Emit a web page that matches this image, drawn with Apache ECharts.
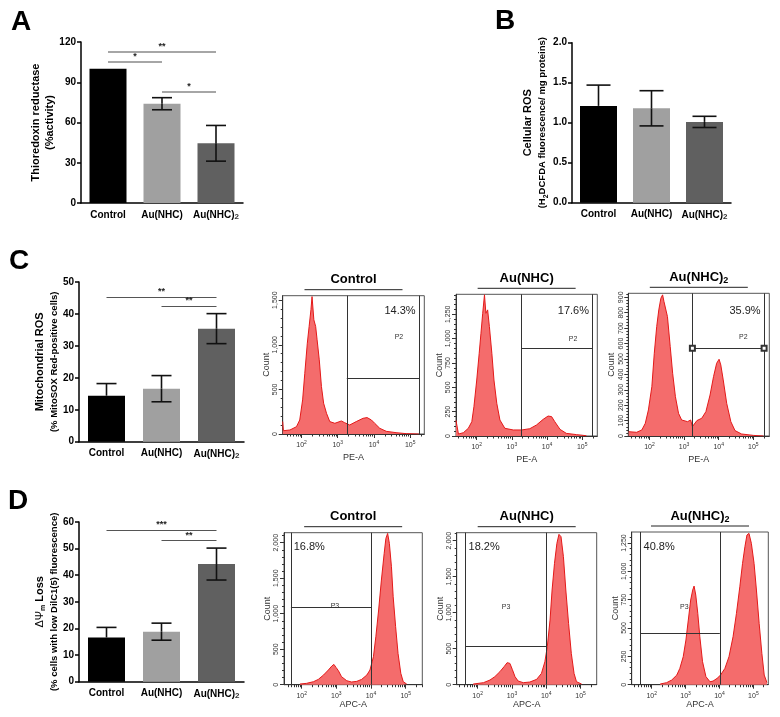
<!DOCTYPE html>
<html>
<head>
<meta charset="utf-8">
<script src="https://cdn.jsdelivr.net/npm/echarts@6/dist/echarts.min.js"></script>
<style>
  html, body { margin: 0; padding: 0; background: #fff; }
  #chart { width: 780px; height: 717px; }
</style>
</head>
<body>
<div id="chart"></div>
<script>
// bar data
const categories = ['Control', 'Au(NHC)', 'Au(NHC)2'];
const barColors = ['#000000', '#a0a0a0', '#606060'];

const trxMean = [100, 74, 44.5];
const trxErr = [0, 4.5, 13.3];
const rosMean = [1.21, 1.18, 1.01];
const rosErr = [0.26, 0.22, 0.07];
const mitoMean = [14.4, 16.6, 35.4];
const mitoErr = [3.8, 4.1, 4.7];
const dpsiMean = [16.6, 18.8, 44.2];
const dpsiErr = [3.8, 3.2, 6.0];

// significance brackets: [from, to, level, stars]
const trxSig = [[0, 2, 112.7, '**'], [0, 1, 105, '*'], [1, 2, 82.7, '*']];
const mitoSig = [[0, 2, 45.2, '**'], [1, 2, 42.5, '**']];
const dpsiSig = [[0, 2, 56.9, '***'], [1, 2, 53, '**']];

// flow histograms: [log10 intensity, count]
const mitoSoxControl = [[1.48,140],[1.50,37],[1.68,45],[1.86,82],[1.95,157],[2.03,382],[2.09,680],[2.16,1018],[2.21,1206],[2.26,1393],[2.29,1540],[2.34,1280],[2.39,1206],[2.43,1056],[2.49,831],[2.55,532],[2.61,345],[2.69,232],[2.78,139],[2.92,120],[3.10,146],[3.19,127],[3.33,101],[3.51,139],[3.70,176],[3.81,184],[3.93,157],[4.02,120],[4.16,64],[4.34,30],[4.61,15],[4.89,4],[5.24,0]];
const mitoSoxAu = [[1.41,160],[1.48,20],[1.62,34],[1.76,79],[1.86,147],[1.92,301],[2.00,575],[2.07,849],[2.12,1055],[2.17,1260],[2.22,1450],[2.26,1260],[2.31,1295],[2.36,1123],[2.43,849],[2.49,575],[2.57,336],[2.66,164],[2.80,79],[3.04,62],[3.28,62],[3.51,75],[3.70,113],[3.89,171],[4.03,205],[4.13,199],[4.22,147],[4.37,68],[4.55,27],[4.84,14],[5.12,3]];
const mitoSoxAu2 = [[1.40,28],[1.63,24],[1.78,39],[1.88,82],[1.97,169],[2.07,320],[2.14,537],[2.21,710],[2.27,818],[2.33,894],[2.38,916],[2.42,872],[2.47,883],[2.52,775],[2.60,580],[2.67,407],[2.75,255],[2.84,147],[2.93,104],[3.10,93],[3.19,104],[3.24,61],[3.37,100],[3.51,115],[3.63,158],[3.75,266],[3.85,385],[3.94,472],[4.01,498],[4.06,461],[4.13,364],[4.23,212],[4.35,93],[4.47,35],[4.66,13],[5.00,4],[5.29,0]];
const dilcControl = [[1.95,9],[2.14,19],[2.34,42],[2.48,75],[2.63,136],[2.77,207],[2.87,263],[2.93,286],[2.99,244],[3.06,197],[3.15,113],[3.30,56],[3.44,38],[3.59,47],[3.73,75],[3.88,136],[3.97,207],[4.07,394],[4.14,676],[4.22,1052],[4.30,1474],[4.38,1850],[4.43,2061],[4.48,2131],[4.53,1991],[4.59,1662],[4.64,1239],[4.71,817],[4.78,441],[4.86,160],[4.93,42],[5.03,9]];
const dilcAu = [[1.87,9],[2.17,28],[2.36,65],[2.50,111],[2.65,181],[2.77,250],[2.86,306],[2.94,296],[3.01,213],[3.09,111],[3.18,51],[3.33,28],[3.52,37],[3.72,74],[3.86,157],[3.96,319],[4.03,528],[4.11,898],[4.17,1315],[4.24,1685],[4.31,1963],[4.37,2088],[4.43,2056],[4.50,1778],[4.57,1315],[4.65,852],[4.73,435],[4.81,157],[4.88,42],[5.03,9]];
const dilcAu2 = [[2.25,6],[2.44,18],[2.59,41],[2.74,85],[2.83,144],[2.93,247],[3.01,394],[3.08,570],[3.15,747],[3.21,835],[3.25,870],[3.30,791],[3.36,629],[3.42,423],[3.50,203],[3.60,71],[3.72,26],[3.81,32],[3.93,56],[4.03,85],[4.16,144],[4.28,247],[4.40,423],[4.50,629],[4.60,864],[4.68,1070],[4.75,1217],[4.81,1320],[4.87,1335],[4.94,1247],[5.02,1070],[5.09,835],[5.17,541],[5.25,276],[5.32,85],[5.40,18]];

// gates: [left, right, height] ; percentages
const mitoSoxGates = [[3.25, 5.26, 622], [3.26, 5.28, 900], [3.24, 5.31, 569]];
const dilcGates = [[1.69, 4.0, 1085], [1.64, 4.0, 528], [1.66, 4.01, 450]];
const mitoSoxPct = ['14.3%', '17.6%', '35.9%'];
const dilcPct = ['16.8%', '18.2%', '40.8%'];

// tick labels
const decades = [2, 3, 4, 5];
const minorMult = [2, 3, 4, 5, 6, 7, 8, 9];
const countTicks500 = [0, 500, 1000, 1500];
const countTicks500b = [0, 500, 1000, 1500, 2000];
const countTicks250 = [0, 250, 500, 750, 1000, 1250];
const countTicks100 = [0, 100, 200, 300, 400, 500, 600, 700, 800, 900];

const FONT = '"Liberation Sans", Arial, sans-serif';

let chart = echarts.init(document.getElementById('chart'));
let grids = [], xAxes = [], yAxes = [], series = [], graphic = [];

// error bar; on the black control bar only the upper half is drawn
function errorBar(half) {
  return function (params, api) {
    let m = api.value(1), e = api.value(2);
    if (!e) return null;
    let i = params.dataIndex;
    let top = api.coord([i, m + e]), mid = api.coord([i, m]), bot = api.coord([i, m - e]);
    let st = { stroke: '#111', lineWidth: 1.6 };
    let kids = [
      { type: 'line', shape: { x1: top[0], y1: top[1], x2: mid[0], y2: mid[1] }, style: st },
      { type: 'line', shape: { x1: top[0] - half, y1: top[1], x2: top[0] + half, y2: top[1] }, style: st }
    ];
    if (i !== 0) {
      kids.push({ type: 'line', shape: { x1: mid[0], y1: mid[1], x2: bot[0], y2: bot[1] }, style: st });
      kids.push({ type: 'line', shape: { x1: bot[0] - half, y1: bot[1], x2: bot[0] + half, y2: bot[1] }, style: st });
    }
    return { type: 'group', children: kids };
  };
}

function addBar(p) {
  let gi = grids.length;
  grids.push({ left: p.left, top: p.top, width: p.width, height: p.height });
  let xi = xAxes.length, yi = yAxes.length;
  xAxes.push({
    type: 'category', gridIndex: gi, data: categories,
    axisLine: { lineStyle: { color: '#000', width: 1.5 } },
    axisTick: { show: false },
    axisLabel: {
      margin: 7, interval: 0,
      formatter: v => v === 'Au(NHC)2' ? '{n|Au(NHC)}{s|2}' : '{n|' + v + '}',
      rich: {
        n: { fontFamily: FONT, fontSize: 10, fontWeight: 'bold', color: '#000' },
        s: { fontFamily: FONT, fontSize: 8, fontWeight: 'bold', color: '#333', padding: [3, 0, 0, 0] }
      }
    }
  });
  yAxes.push({
    type: 'value', gridIndex: gi, min: 0, max: p.max, interval: p.interval,
    axisLine: { show: true, lineStyle: { color: '#000', width: 1.5 } },
    axisTick: { show: true, length: 4, lineStyle: { color: '#000', width: 1.5 } },
    axisLabel: { fontFamily: FONT, fontSize: 10, fontWeight: 'bold', color: '#000', margin: 5, formatter: p.fmt },
    splitLine: { show: false },
    name: p.name, nameLocation: 'middle', nameRotate: 90, nameGap: p.nameGap,
    nameTextStyle: { rich: p.rich }
  });
  series.push({
    type: 'bar', xAxisIndex: xi, yAxisIndex: yi, barWidth: 37,
    data: p.mean.map((v, i) => ({ value: v, itemStyle: { color: barColors[i] } })),
    markLine: p.sig ? {
      silent: true, symbol: 'none', animation: false,
      lineStyle: { color: p.sigColor, width: p.sigWidth, type: 'solid' },
      label: { show: true, position: 'middle', formatter: '{b}', fontFamily: FONT, fontSize: 9, fontWeight: 'bold', color: '#222', distance: 1 },
      emphasis: { disabled: true },
      data: p.sig.map(s => [{ coord: [s[0], s[2]], name: s[3] }, { coord: [s[1], s[2]] }])
    } : undefined
  });
  series.push({
    type: 'custom', xAxisIndex: xi, yAxisIndex: yi, z: 5,
    renderItem: errorBar(p.cap),
    encode: { x: 0, y: 1 },
    data: p.mean.map((v, i) => [i, v, p.err[i]])
  });
}

const nameRich = {
  t: { fontFamily: FONT, fontSize: 11, fontWeight: 'bold', color: '#000', lineHeight: 14 },
  r: { fontFamily: FONT, fontSize: 11, color: '#000', lineHeight: 14 },
  s: { fontFamily: FONT, fontSize: 9.5, fontWeight: 'bold', color: '#000', lineHeight: 14 },
  sb: { fontFamily: FONT, fontSize: 7, fontWeight: 'bold', color: '#000', lineHeight: 8, verticalAlign: 'bottom' }
};

addBar({ left: 81, top: 42, width: 162, height: 161, max: 120, interval: 30,
  mean: trxMean, err: trxErr, sig: trxSig, sigColor: '#888', sigWidth: 1.5, cap: 10, nameGap: 22,
  name: '{t|Thioredoxin reductase}\n{t|(%activity)}', rich: nameRich });
addBar({ left: 572, top: 42.7, width: 159, height: 160, max: 2, interval: 0.5, fmt: v => v.toFixed(1),
  mean: rosMean, err: rosErr, cap: 12, nameGap: 22,
  name: '{t|Cellular ROS}\n{s|(H}{sb|2}{s|DCFDA fluorescence/ mg proteins)}', rich: nameRich });
addBar({ left: 79, top: 282, width: 165, height: 159.7, max: 50, interval: 10,
  mean: mitoMean, err: mitoErr, sig: mitoSig, sigColor: '#555', sigWidth: 1, cap: 10, nameGap: 12,
  name: '{t|Mitochondrial ROS}\n{s|(% MitoSOX Red-positive cells)}', rich: nameRich });
addBar({ left: 79, top: 522, width: 165, height: 159.7, max: 60, interval: 10,
  mean: dpsiMean, err: dpsiErr, sig: dpsiSig, sigColor: '#555', sigWidth: 1, cap: 10, nameGap: 12,
  name: '{r|ΔΨ}{sb|m}{t| Loss}\n{s|(% cells with low DilC1(5) fluorescence)}', rich: nameRich });

function addFlow(p) {
  let gi = grids.length;
  grids.push({ left: p.left, top: p.top, width: p.width, height: p.height, show: true, borderColor: '#555', borderWidth: 1 });
  let minorX = [];
  for (let n = 1; n <= 5; n++) minorMult.forEach(k => {
    let v = n + Math.log10(k);
    if (v > p.xmin && v < p.xmax) minorX.push(v);
  });
  let minorY = [];
  for (let v = 0; v <= p.ymax; v += p.yMinor) minorY.push(v);
  let xi = xAxes.length, yi = yAxes.length;
  xAxes.push({
    type: 'value', gridIndex: gi, min: p.xmin, max: p.xmax, position: 'bottom',
    name: p.xName, nameLocation: 'middle', nameGap: p.xNameGap,
    nameTextStyle: { fontFamily: FONT, fontSize: 9, color: '#333' },
    axisLine: { lineStyle: { color: '#333', width: 1 } },
    axisTick: { customValues: decades, length: 4, lineStyle: { color: '#333' } },
    axisLabel: {
      customValues: decades, margin: 6,
      formatter: v => '{b|10}{e|' + v + '}',
      rich: {
        b: { fontFamily: FONT, fontSize: 7, color: '#333', lineHeight: 10 },
        e: { fontFamily: FONT, fontSize: 5, color: '#333', lineHeight: 5, verticalAlign: 'top' }
      }
    },
    splitLine: { show: false }
  });
  xAxes.push({
    type: 'value', gridIndex: gi, min: p.xmin, max: p.xmax, position: 'bottom',
    axisLine: { show: false },
    axisTick: { customValues: minorX, length: 2.5, lineStyle: { color: '#333' } },
    axisLabel: { show: false }, splitLine: { show: false }
  });
  yAxes.push({
    type: 'value', gridIndex: gi, min: 0, max: p.ymax, position: 'left',
    name: 'Count', nameLocation: 'middle', nameRotate: 90, nameGap: 12,
    nameTextStyle: { fontFamily: FONT, fontSize: 9, color: '#333' },
    axisLine: { show: true, lineStyle: { color: '#333', width: 1 } },
    axisTick: { customValues: p.yTicks, length: 4, lineStyle: { color: '#333' } },
    axisLabel: { customValues: p.yTicks, rotate: 90, margin: 4, fontFamily: FONT, fontSize: 7, color: '#333',
      formatter: v => v.toLocaleString('en-US') },
    splitLine: { show: false }
  });
  yAxes.push({
    type: 'value', gridIndex: gi, min: 0, max: p.ymax, position: 'left',
    axisLine: { show: false },
    axisTick: { customValues: minorY, length: 2, lineStyle: { color: '#333' } },
    axisLabel: { show: false }, splitLine: { show: false }
  });
  let g = p.gate;
  let sq = p.squares ? 'emptyRect' : 'none';
  series.push({
    type: 'line', xAxisIndex: xi, yAxisIndex: yi, data: p.hist,
    showSymbol: false, symbol: 'none',
    lineStyle: { color: '#e41a1a', width: 1 },
    areaStyle: { color: '#f46c6c', opacity: 1 },
    markLine: {
      silent: true, symbol: 'none', animation: false,
      lineStyle: { color: '#333', width: 1, type: 'solid' },
      label: { show: false }, emphasis: { disabled: true },
      data: [
        [{ coord: [g[0], 0] }, { coord: [g[0], p.ymax] }],
        [{ coord: [g[1], 0] }, { coord: [g[1], p.ymax] }],
        [{ coord: [g[0], g[2]], symbol: sq, symbolSize: 5 }, { coord: [g[1], g[2]], symbol: sq, symbolSize: 5 }]
      ]
    },
    markPoint: {
      silent: true, animation: false, symbol: 'circle', symbolSize: 0,
      data: [
        { coord: p.pctAt, label: { show: true, position: 'inside', formatter: p.pct, fontFamily: FONT, fontSize: 11, color: '#222' } },
        { coord: p.gateAt, label: { show: true, position: 'inside', formatter: p.gateName, fontFamily: FONT, fontSize: 7, color: '#333' } }
      ]
    }
  });
  let cx = p.left + p.width / 2;
  graphic.push({
    type: 'text', x: cx, y: p.top - 16,
    style: {
      text: p.title === 'Au(NHC)2' ? '{t|Au(NHC)}{s|2}' : '{t|' + p.title + '}',
      align: 'center', verticalAlign: 'middle',
      rich: {
        t: { fontFamily: FONT, fontSize: 13, fontWeight: 'bold', fill: '#000', lineHeight: 16 },
        s: { fontFamily: FONT, fontSize: 9, fontWeight: 'bold', fill: '#000', lineHeight: 6, verticalAlign: 'bottom' }
      }
    }
  });
  graphic.push({ type: 'line', shape: { x1: cx - 49, y1: p.top - 6, x2: cx + 49, y2: p.top - 6 }, style: { stroke: '#222', lineWidth: 1 } });
}

addFlow({ hist: mitoSoxControl, title: 'Control', left: 282.7, top: 295.7, width: 141.6, height: 138.3,
  xmin: 1.48, xmax: 5.39, ymax: 1550, yTicks: countTicks500, yMinor: 100, xName: 'PE-A', xNameGap: 19,
  gate: mitoSoxGates[0], pct: mitoSoxPct[0], pctAt: [4.72, 1382], gateName: 'P2', gateAt: [4.69, 1087] });
addFlow({ hist: mitoSoxAu, title: 'Au(NHC)', left: 456, top: 294.3, width: 141.3, height: 141.7,
  xmin: 1.41, xmax: 5.43, ymax: 1455, yTicks: countTicks250, yMinor: 50, xName: 'PE-A', xNameGap: 19,
  gate: mitoSoxGates[1], pct: mitoSoxPct[1], pctAt: [4.75, 1287], gateName: 'P2', gateAt: [4.74, 999] });
addFlow({ hist: mitoSoxAu2, title: 'Au(NHC)2', left: 628.3, top: 293.3, width: 141, height: 142.7,
  xmin: 1.39, xmax: 5.46, ymax: 926, yTicks: countTicks100, yMinor: 20, xName: 'PE-A', xNameGap: 19, squares: true,
  gate: mitoSoxGates[2], pct: mitoSoxPct[2], pctAt: [4.76, 813], gateName: 'P2', gateAt: [4.71, 644] });
addFlow({ hist: dilcControl, title: 'Control', left: 284, top: 532.7, width: 138.3, height: 152,
  xmin: 1.49, xmax: 5.48, ymax: 2141, yTicks: countTicks500b, yMinor: 100, xName: 'APC-A', xNameGap: 14,
  gate: dilcGates[0], pct: dilcPct[0], pctAt: [2.22, 1944], gateName: 'P3', gateAt: [2.96, 1108] });
addFlow({ hist: dilcAu, title: 'Au(NHC)', left: 456.7, top: 532.7, width: 140, height: 152,
  xmin: 1.39, xmax: 5.47, ymax: 2111, yTicks: countTicks500b, yMinor: 100, xName: 'APC-A', xNameGap: 14,
  gate: dilcGates[1], pct: dilcPct[1], pctAt: [2.19, 1917], gateName: 'P3', gateAt: [2.83, 1083] });
addFlow({ hist: dilcAu2, title: 'Au(NHC)2', left: 631.7, top: 532, width: 136.6, height: 152.7,
  xmin: 1.41, xmax: 5.44, ymax: 1347, yTicks: countTicks250, yMinor: 50, xName: 'APC-A', xNameGap: 14,
  gate: dilcGates[2], pct: dilcPct[2], pctAt: [2.22, 1217], gateName: 'P3', gateAt: [2.96, 688] });

// panel letters
[['A', 11, 22], ['B', 495, 21], ['C', 9, 261], ['D', 8, 501]].forEach(l => {
  graphic.push({ type: 'text', x: l[1], y: l[2],
    style: { text: l[0], fontFamily: FONT, fontSize: 28, fontWeight: 'bold', fill: '#000', align: 'left', verticalAlign: 'middle' } });
});

let option = {
  animation: false,
  textStyle: { fontFamily: FONT },
  grid: grids,
  xAxis: xAxes,
  yAxis: yAxes,
  series: series,
  graphic: graphic
};
chart.setOption(option);
</script>
</body>
</html>
